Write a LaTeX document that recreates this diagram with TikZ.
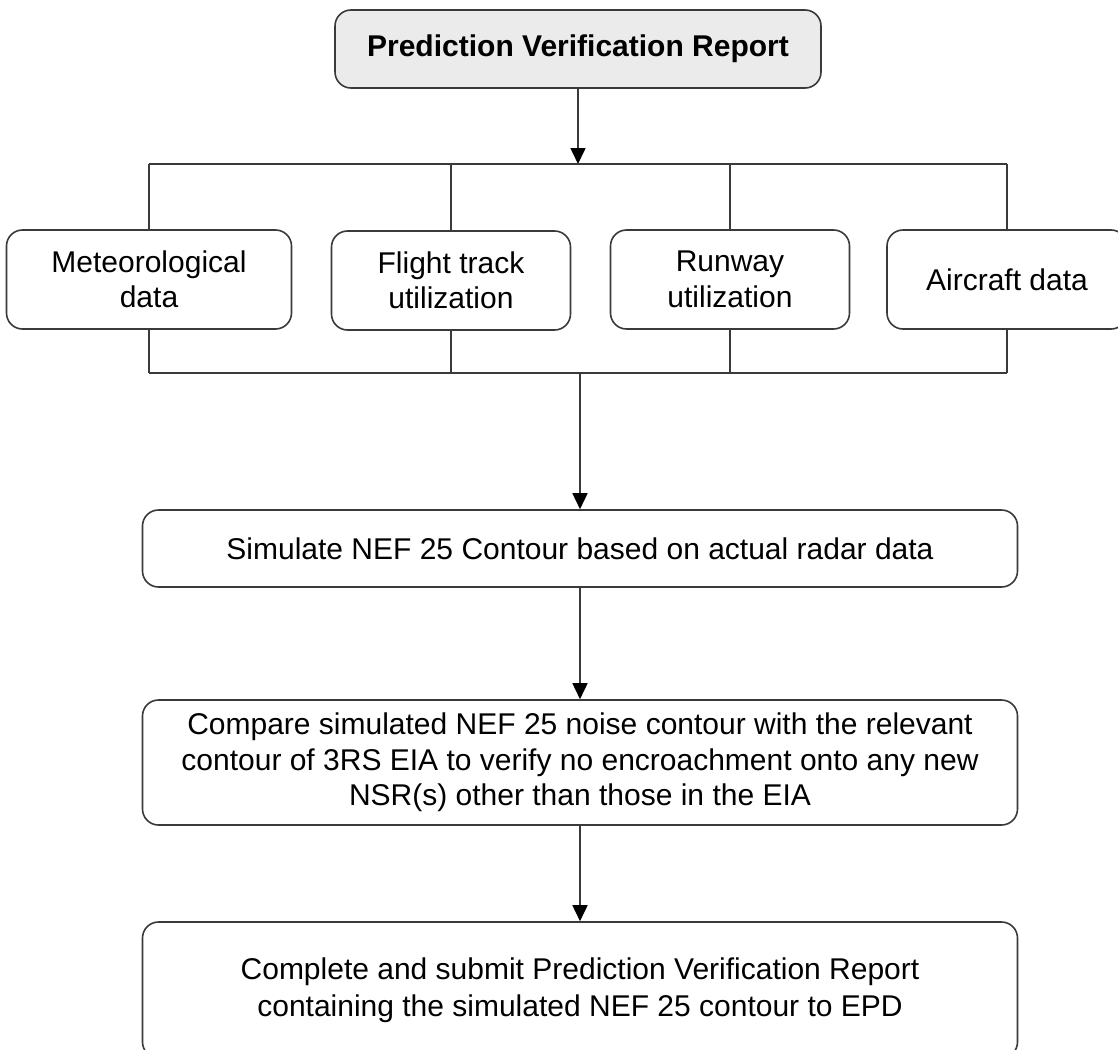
\documentclass[tikz,border=0pt]{standalone}
\usepackage{fontspec}
\setmainfont{Liberation Sans}
\usetikzlibrary{arrows.meta}
\definecolor{linegray}{HTML}{3A3A3A}
\definecolor{topfill}{HTML}{EBEBEB}
\tikzset{
  box/.style={draw=linegray, line width=1.6pt, rounded corners=16pt, inner sep=0pt,
    align=center, font=\fontsize{30}{35.5}\selectfont, text=black},
  wire/.style={draw=linegray, line width=1.6pt},
  arr/.style={wire, arrows={-{Triangle[width=15pt,length=16pt,fill=black,color=black]}}}
}
\begin{document}
\begin{tikzpicture}[x=1pt,y=-1pt]
\useasboundingbox (0,0) rectangle (1118,1049);
\clip (0,0) rectangle (1118,1049);
\fill[white] (0,0) rectangle (1118,1049);

\node[box, fill=topfill, minimum width=486pt, minimum height=78pt, font=\fontsize{30}{35.5}\selectfont\bfseries] (top) at (578,49) {Prediction Verification Report};

\node[box, minimum width=285pt, minimum height=99pt] (met) at (149,279.5) {Meteorological\\data};
\node[box, minimum width=239pt, minimum height=99pt] (flt) at (451,280.5) {Flight track\\utilization};
\node[box, minimum width=239pt, minimum height=99pt] (rwy) at (730,279.5) {Runway\\utilization};
\node[box, minimum width=240pt, minimum height=99pt] (acd) at (1007,279.5) {Aircraft data};

\node[box, minimum width=875pt, minimum height=77pt] (sim) at (580,548.5) {Simulate NEF 25 Contour based on actual radar data};
\node[box, minimum width=875pt, minimum height=125pt] (cmp) at (580,762.5) {Compare simulated NEF 25 noise contour with the relevant\\contour of 3RS EIA to verify no encroachment onto any new\\NSR(s) other than those in the EIA};
\node[box, minimum width=875pt, minimum height=136pt, font=\fontsize{30}{37}\selectfont] (done) at (580,990) {Complete and submit Prediction Verification Report\\containing the simulated NEF 25 contour to EPD};

% upper bus
\coordinate (ub) at (578,164);
\coordinate (ubl) at (149,164);
\coordinate (ubr) at (1007,164);
% lower bus
\coordinate (lbl) at (149,373);
\coordinate (lbr) at (1007,373);
\coordinate (lb) at (580,373);

\draw[arr] (top.south) -- (ub);
\draw[wire] (ubl) -- (ubr);
\draw[wire] (ubl) -- (ubl |- met.north);
\draw[wire] (flt.north |- ub) -- (flt.north);
\draw[wire] (rwy.north |- ub) -- (rwy.north);
\draw[wire] (ubr) -- (ubr |- acd.north);

\draw[wire] (lbl) -- (lbr);
\draw[wire] (lbl) -- (lbl |- met.south);
\draw[wire] (flt.south |- lb) -- (flt.south);
\draw[wire] (rwy.south |- lb) -- (rwy.south);
\draw[wire] (lbr) -- (lbr |- acd.south);

\draw[arr] (lb) -- (sim.north);
\draw[arr] (sim.south) -- (cmp.north);
\draw[arr] (cmp.south) -- (done.north);
\end{tikzpicture}
\end{document}
